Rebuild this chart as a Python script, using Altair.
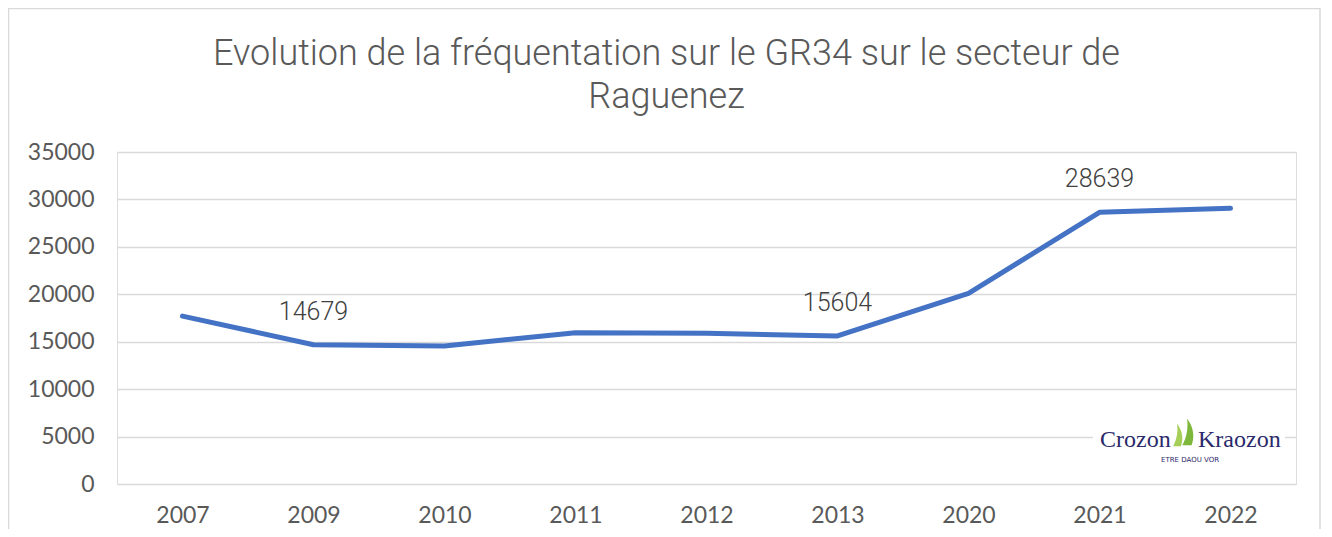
import altair as alt
import pandas as pd

years = ["2007", "2009", "2010", "2011", "2012", "2013", "2020", "2021", "2022"]
visits = [17700, 14679, 14550, 15950, 15880, 15604, 20100, 28639, 29060]
labelled_years = ["2009", "2013", "2021"]
y_ticks = [0, 5000, 10000, 15000, 20000, 25000, 30000, 35000]

title_lines = ["Evolution de la fréquentation sur le GR34 sur le secteur de", "Raguenez"]

df = pd.DataFrame({
    "year": years,
    "visits": visits,
    "label": [str(v) if y in labelled_years else "" for y, v in zip(years, visits)],
})

GREY = "#595959"
one = pd.DataFrame({"a": [0]})

x_enc = alt.X("year:N", sort=years, scale=alt.Scale(type="point", padding=0.5),
              axis=alt.Axis(title=None, domain=False, ticks=False, grid=False,
                            labelFont="Lato", labelFontSize=23, labelColor=GREY,
                            labelPadding=20, labelAngle=0))
y_enc = alt.Y("visits:Q", scale=alt.Scale(domain=[0, 35000], nice=False),
              axis=alt.Axis(title=None, values=y_ticks, domain=False, ticks=False,
                            grid=True, gridColor="#d9d9d9", gridWidth=1.5,
                            labelFont="Lato", labelFontSize=23, labelColor=GREY,
                            labelPadding=23, format="d"))

base = alt.Chart(df)

line = base.mark_line(color="#4472C4", strokeWidth=5, strokeCap="round",
                      strokeJoin="round").encode(x=x_enc, y=y_enc)

labels = base.transform_filter(alt.datum.label != "").mark_text(
    font="Roboto", fontWeight=300, fontSize=25, color="#404040",
    dy=-33, baseline="middle").encode(
    x=alt.X("year:N", sort=years), y="visits:Q", text="label:N")

# decorative frame and logo
frame = alt.Chart(one).mark_rect(fillOpacity=0, stroke="#d9d9d9", strokeWidth=1.5).encode(
    x=alt.value(-108.5), x2=alt.value(1203), y=alt.value(-143.5), y2=alt.value(420))

sail_path = "M0,-1 C0.5,-0.4 0.6,0.4 0.35,1 L-0.35,1 C0,0.4 0.1,-0.4 0,-1 Z"

logo_bg = alt.Chart(one).mark_rect(color="white").encode(
    x=alt.value(976), x2=alt.value(1168), y=alt.value(262), y2=alt.value(316))
logo_left = alt.Chart(one).mark_text(text="Crozon", font="Liberation Serif", fontSize=24,
                                     color="#2b2a6b", align="left", baseline="alphabetic").encode(
    x=alt.value(983), y=alt.value(295))
logo_right = alt.Chart(one).mark_text(text="Kraozon", font="Liberation Serif", fontSize=24,
                                      color="#2b2a6b", align="left", baseline="alphabetic").encode(
    x=alt.value(1081), y=alt.value(295))
logo_sub = alt.Chart(one).mark_text(text="ETRE DAOU VOR", font="DejaVu Sans", fontSize=7,
                                    color="#2b2a6b", align="center", baseline="middle").encode(
    x=alt.value(1073), y=alt.value(308))
sail1 = alt.Chart(one).mark_point(shape=sail_path, filled=True, color="#a6cf5a",
                                  size=500, opacity=1, strokeWidth=0).encode(
    x=alt.value(1060), y=alt.value(283))
sail2 = alt.Chart(one).mark_point(shape=sail_path, filled=True, color="#7db83a",
                                  size=700, opacity=1, strokeWidth=0).encode(
    x=alt.value(1070), y=alt.value(280))

chart = alt.layer(line, labels, frame, logo_bg, sail1, sail2, logo_left, logo_right, logo_sub).properties(
    width=1179, height=332,
    title=alt.TitleParams(text=title_lines, font="Roboto", fontWeight=300, fontSize=36,
                          color=GREY, anchor="middle", lineHeight=43, dx=-40, offset=-108),
    autosize=alt.AutoSizeParams(type="none"),
    padding={"left": 109, "top": 144, "right": 28, "bottom": 45},
).configure_view(stroke=None).configure(background="white")

chart.save("out.html", embed_options={"renderer": "svg", "actions": False})
